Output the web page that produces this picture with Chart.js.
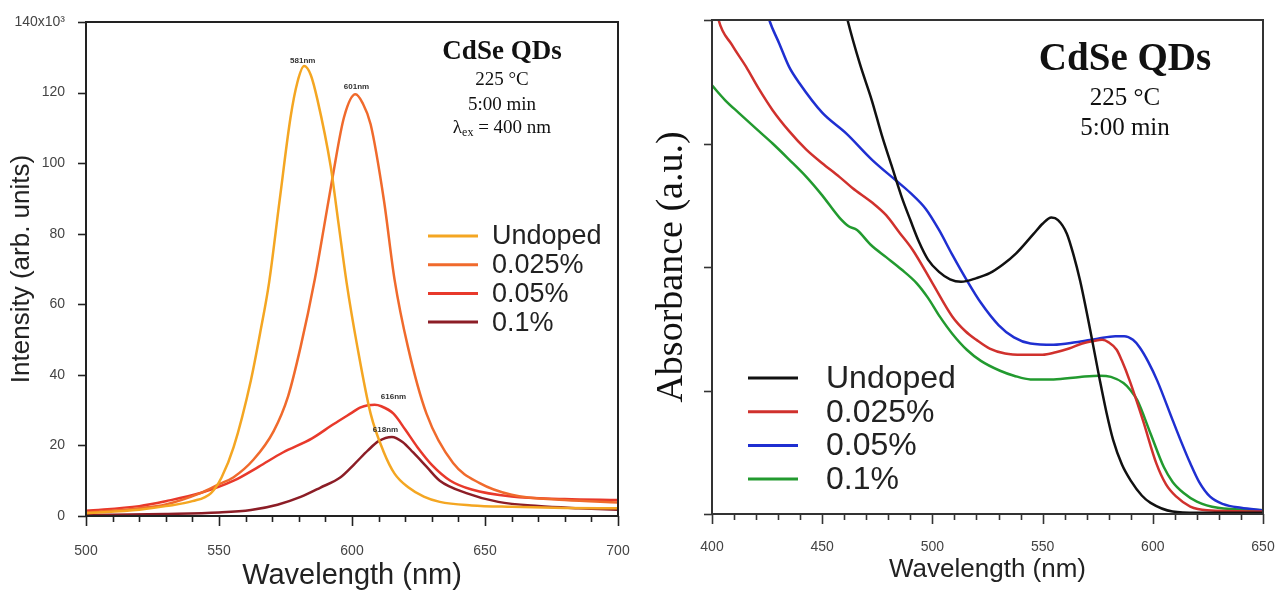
<!DOCTYPE html>
<html>
<head>
<meta charset="utf-8">
<script src="https://cdn.jsdelivr.net/npm/chart.js@4.4.1/dist/chart.umd.min.js"></script>
<style>
    html, body { margin: 0; padding: 0; background: #fff; }
    #wrap { position: relative; width: 1277px; height: 590px; overflow: hidden; }
    #plChart { position: absolute; left: 0; top: 0; }
    #absChart { position: absolute; left: 640px; top: 0; }
</style>
</head>
<body>
<div id="wrap">
    <canvas id="plChart" width="640" height="590"></canvas>
    <canvas id="absChart" width="637" height="590"></canvas>
</div>
<script>
// ---- shared labels
const seriesLabels = ['Undoped', '0.025%', '0.05%', '0.1%'];

// ---- photoluminescence (left), intensity in 10^3 arb. units
const plUndopedX = [500, 520, 530, 540, 547, 551, 555.5, 562, 565.5, 568.8, 572.8, 576.9, 579.5, 582, 584.5, 587, 592, 595, 598, 602, 607, 612, 616, 621, 627, 633, 645, 660, 680, 700];
const plUndopedY = [0.8, 1.8, 2.8, 4.2, 6.5, 11, 19.5, 38.5, 52, 66, 89.5, 113, 123, 127.5, 125, 118, 99, 82.5, 66, 48, 29, 18, 12, 8.2, 5.5, 4, 3, 2.6, 2.3, 2.2];
const plDope025X = [500, 520, 530, 543, 550, 555.5, 563, 570.5, 576, 580.7, 586, 589.5, 592.7, 597, 601.3, 604, 607, 612, 616, 621, 628, 638, 648, 660, 680, 700];
const plDope025Y = [1.0, 2.2, 3.3, 6.5, 9, 11, 16, 24, 34, 48, 67, 82, 96, 113, 119.5, 117, 111, 89.5, 67, 48, 29, 15, 9.3, 6, 4.5, 3.8];
const plDope05X = [500, 520, 530, 543, 555.5, 565, 574, 585, 593, 600, 603, 606, 608.5, 611, 615.6, 620, 624.6, 630, 637, 645, 660, 680, 700];
const plDope05Y = [1.5, 2.8, 4.2, 6.5, 10, 14, 18, 22, 26, 29.3, 30.7, 31.4, 31.5, 31.1, 29, 24.5, 19.5, 14.5, 10, 7.5, 5.5, 4.8, 4.5];
const plDope1X = [500, 530, 550, 562, 572, 580.7, 588, 595.7, 601, 606, 610, 615, 619, 623, 628, 633, 643, 655, 670, 685, 700];
const plDope1Y = [0.3, 0.6, 1.0, 1.7, 3.2, 5.4, 8, 11, 14.8, 18.6, 21.2, 22.4, 21, 18, 14, 10, 6.5, 4, 2.8, 2.2, 1.8];

const plMajorX = [500, 550, 600, 650, 700];
const plMinorX = [510, 520, 530, 540, 560, 570, 580, 590, 610, 620, 630, 640, 660, 670, 680, 690];
const plMajorY = [0, 20, 40, 60, 80, 100, 120, 140];

const peakLabels = ['581nm', '601nm', '616nm', '618nm'];
const peakLabelX = [581.5, 601.7, 615.6, 612.6];
const peakLabelY = [129, 121.5, 33.7, 24.4];

// ---- absorbance (right), a.u.
const absUndopedX = [450, 461.5, 467, 472.5, 477, 481.5, 486, 490, 494, 498, 503, 508, 513, 520, 526, 532, 538, 546, 550, 554, 557, 561, 564, 567, 571.6, 576, 579, 582, 586, 590, 595, 599, 609, 620, 650];
const absUndopedY = [4.9, 4.0, 3.65, 3.35, 3.07, 2.82, 2.57, 2.38, 2.2, 2.06, 1.96, 1.9, 1.88, 1.91, 1.95, 2.02, 2.11, 2.27, 2.35, 2.40, 2.38, 2.27, 2.1, 1.89, 1.49, 1.08, 0.82, 0.6, 0.4, 0.27, 0.15, 0.09, 0.02, 0.01, 0.01];
const absDope025X = [400, 403, 409, 415.5, 421, 427.5, 435, 442.8, 450, 457.8, 463.7, 472.8, 479, 485, 491, 500, 509, 515, 520, 526, 533, 541, 550, 556, 562, 568, 573, 577, 580, 583.6, 586, 589.5, 595.5, 601.6, 606, 610.7, 617, 624.6, 650];
const absDope025Y = [4.3, 4.0, 3.8, 3.62, 3.45, 3.27, 3.1, 2.95, 2.84, 2.73, 2.64, 2.52, 2.42, 2.28, 2.14, 1.87, 1.6, 1.48, 1.41, 1.34, 1.30, 1.29, 1.29, 1.31, 1.34, 1.38, 1.40, 1.41, 1.39, 1.33, 1.24, 1.08, 0.76, 0.41, 0.24, 0.14, 0.06, 0.03, 0.02];
const absDope05X = [420, 426, 430.5, 435, 439.6, 450, 461, 472.5, 483.5, 490, 497, 503, 509, 515.7, 522, 530, 537, 544.5, 555, 565, 575, 583, 587, 591, 594, 598, 602, 609, 613, 617, 621, 626, 632, 640, 650];
const absDope05Y = [4.4, 4.0, 3.81, 3.62, 3.49, 3.25, 3.08, 2.87, 2.70, 2.60, 2.47, 2.30, 2.10, 1.89, 1.71, 1.53, 1.43, 1.38, 1.37, 1.39, 1.42, 1.44, 1.44, 1.41, 1.35, 1.23, 1.08, 0.76, 0.58, 0.41, 0.26, 0.14, 0.08, 0.05, 0.03];
const absDope1X = [400, 406, 412, 420, 427.5, 435, 442.8, 450, 457.8, 462, 465.8, 472, 479, 486, 492.8, 498, 503.3, 509, 515.6, 522, 530.7, 537, 544.5, 555, 567, 576, 581, 586.7, 590, 593, 599, 605, 609, 614, 620, 629.5, 650];
const absDope1Y = [3.47, 3.35, 3.25, 3.12, 3.0, 2.87, 2.73, 2.58, 2.40, 2.33, 2.30, 2.18, 2.08, 1.98, 1.87, 1.75, 1.60, 1.46, 1.33, 1.24, 1.16, 1.12, 1.09, 1.09, 1.11, 1.12, 1.11, 1.06, 1.0, 0.92, 0.65, 0.38, 0.26, 0.17, 0.1, 0.05, 0.03];

const absMajorX = [400, 450, 500, 550, 600, 650];
const absMinorX = [410, 420, 430, 440, 460, 470, 480, 490, 510, 520, 530, 540, 560, 570, 580, 590, 610, 620, 630, 640];
const absMajorY = [0, 1, 2, 3, 4];

function toPoints(xs, ys) {
    return xs.map((x, i) => ({ x: x, y: ys[i] }));
}

function makeDataset(label, xs, ys, color) {
    return {
        label: label,
        data: toPoints(xs, ys),
        borderColor: color,
        borderWidth: 2.5,
        pointRadius: 0,
        fill: false,
        cubicInterpolationMode: 'monotone'
    };
}

// keep the plot area where the figure has it (no extra room for edge labels)
function fixX(height) {
    return s => { s.height = height; s.paddingLeft = 0; s.paddingRight = 0; };
}
function fixY(width) {
    return s => { s.width = width; s.paddingTop = 0; s.paddingBottom = 0; };
}

// ticks, frame, legend and texts drawn on top of the plot
const panelDecor = {
    id: 'panelDecor',
    afterDatasetsDraw(chart, args, opts) {
        const ctx = chart.ctx;
        const a = chart.chartArea;
        const xs = chart.scales.x;
        const ys = chart.scales.y;
        ctx.save();
        ctx.strokeStyle = opts.frameColor;
        ctx.lineWidth = 1.6;
        opts.xTicks.forEach(t => t.values.forEach(v => {
            const px = Math.round(xs.getPixelForValue(v)) + 0.5;
            ctx.beginPath();
            ctx.moveTo(px, a.bottom);
            ctx.lineTo(px, a.bottom + t.len);
            ctx.stroke();
        }));
        opts.yTicks.forEach(t => t.values.forEach(v => {
            const py = Math.round(ys.getPixelForValue(v)) + 0.5;
            ctx.beginPath();
            ctx.moveTo(a.left, py);
            ctx.lineTo(a.left - t.len, py);
            ctx.stroke();
        }));
        ctx.lineWidth = 2;
        ctx.strokeRect(a.left, a.top, a.right - a.left, a.bottom - a.top);

        // legend
        const lg = opts.legend;
        ctx.font = lg.font;
        ctx.textBaseline = 'middle';
        ctx.textAlign = 'left';
        chart.data.datasets.forEach((d, i) => {
            const y = lg.y + i * lg.gap;
            ctx.strokeStyle = d.borderColor;
            ctx.lineWidth = 3;
            ctx.beginPath();
            ctx.moveTo(lg.x, y);
            ctx.lineTo(lg.x + lg.len, y);
            ctx.stroke();
            ctx.fillStyle = '#222';
            ctx.fillText(d.label, lg.textX, y + 1);
        });

        // peak labels
        if (opts.peaks) {
            ctx.font = 'bold 8px "Liberation Sans", Arial, sans-serif';
            ctx.fillStyle = '#333';
            ctx.textAlign = 'center';
            opts.peaks.text.forEach((t, i) => {
                ctx.fillText(t, xs.getPixelForValue(opts.peaks.x[i]), ys.getPixelForValue(opts.peaks.y[i]));
            });
        }

        // text block
        ctx.fillStyle = '#111';
        opts.texts.forEach(t => {
            ctx.font = t.font;
            if (t.sub) {
                const subFont = t.subFont;
                ctx.textAlign = 'left';
                const w1 = ctx.measureText(t.text).width;
                const w3 = ctx.measureText(t.after).width;
                ctx.font = subFont;
                const w2 = ctx.measureText(t.sub).width;
                let x = t.x - (w1 + w2 + w3) / 2;
                ctx.font = t.font;
                ctx.fillText(t.text, x, t.y);
                x += w1;
                ctx.font = subFont;
                ctx.fillText(t.sub, x, t.y + 5);
                x += w2;
                ctx.font = t.font;
                ctx.fillText(t.after, x, t.y);
            } else {
                ctx.textAlign = 'center';
                ctx.fillText(t.text, t.x, t.y);
            }
        });
        ctx.restore();
    }
};

const sans = '"Liberation Sans", Arial, sans-serif';
const serif = '"Liberation Serif", "Times New Roman", serif';

// Photoluminescence chart
new Chart(document.getElementById('plChart').getContext('2d'), {
    type: 'line',
    data: {
        datasets: [
            makeDataset(seriesLabels[0], plUndopedX, plUndopedY, '#f4a622'),
            makeDataset(seriesLabels[1], plDope025X, plDope025Y, '#f06a2c'),
            makeDataset(seriesLabels[2], plDope05X, plDope05Y, '#e8392b'),
            makeDataset(seriesLabels[3], plDope1X, plDope1Y, '#8c1d26')
        ]
    },
    options: {
        responsive: false,
        animation: false,
        devicePixelRatio: 1,
        layout: { padding: { top: 22, right: 22, left: 0, bottom: 0 } },
        scales: {
            x: {
                type: 'linear',
                min: 500,
                max: 700,
                afterFit: fixX(74),
                grid: { display: false },
                border: { display: false },
                ticks: { stepSize: 50, padding: 19, color: '#444', font: { family: sans, size: 14 } },
                title: { display: true, text: 'Wavelength (nm)', color: '#222', padding: { top: 0, bottom: 0 }, font: { family: sans, size: 29, lineHeight: 1 } }
            },
            y: {
                min: 0,
                max: 140,
                afterFit: fixY(86),
                grid: { display: false },
                border: { display: false },
                ticks: {
                    stepSize: 20,
                    padding: 13,
                    color: '#444',
                    font: { family: sans, size: 14 },
                    callback: v => (v === 140 ? '140x10\u00b3' : v)
                },
                title: { display: true, text: 'Intensity (arb. units)', color: '#222', padding: { top: 9, bottom: 0 }, font: { family: sans, size: 26, lineHeight: 1 } }
            }
        },
        plugins: {
            legend: { display: false },
            tooltip: { enabled: false },
            panelDecor: {
                frameColor: '#222',
                xTicks: [{ values: plMajorX, len: 10 }, { values: plMinorX, len: 6 }],
                yTicks: [{ values: plMajorY, len: 8 }],
                legend: { x: 428, len: 50, textX: 492, y: 236, gap: 28.7, font: '27px ' + sans },
                peaks: { text: peakLabels, x: peakLabelX, y: peakLabelY },
                texts: [
                    { text: 'CdSe QDs', x: 502, y: 52, font: 'bold 27px ' + serif },
                    { text: '225 \u00b0C', x: 502, y: 80, font: '19px ' + serif },
                    { text: '5:00 min', x: 502, y: 105, font: '19px ' + serif },
                    { text: '\u03bb', sub: 'ex', after: ' = 400 nm', x: 502, y: 128, font: '19px ' + serif, subFont: '12px ' + serif }
                ]
            }
        }
    },
    plugins: [panelDecor]
});

// Absorbance chart
new Chart(document.getElementById('absChart').getContext('2d'), {
    type: 'line',
    data: {
        datasets: [
            makeDataset(seriesLabels[0], absUndopedX, absUndopedY, '#111111'),
            makeDataset(seriesLabels[1], absDope025X, absDope025Y, '#d0312d'),
            makeDataset(seriesLabels[2], absDope05X, absDope05Y, '#1f2fd1'),
            makeDataset(seriesLabels[3], absDope1X, absDope1Y, '#229a2f')
        ]
    },
    options: {
        responsive: false,
        animation: false,
        devicePixelRatio: 1,
        layout: { padding: { top: 20, right: 14, left: 0, bottom: 0 } },
        scales: {
            x: {
                type: 'linear',
                min: 400,
                max: 650,
                afterFit: fixX(76),
                grid: { display: false },
                border: { display: false },
                ticks: { stepSize: 50, padding: 17, color: '#444', font: { family: sans, size: 14 } },
                title: { display: true, text: 'Wavelength (nm)', color: '#222', padding: { top: 0, bottom: 7 }, font: { family: sans, size: 26, lineHeight: 1 } }
            },
            y: {
                min: 0,
                max: 4,
                afterFit: fixY(72),
                grid: { display: false },
                border: { display: false },
                ticks: { display: false, stepSize: 1 },
                title: { display: true, text: 'Absorbance (a.u.)', color: '#111', padding: { top: 13, bottom: 0 }, font: { family: serif, size: 38, lineHeight: 1 } }
            }
        },
        plugins: {
            legend: { display: false },
            tooltip: { enabled: false },
            panelDecor: {
                frameColor: '#333',
                xTicks: [{ values: absMajorX, len: 10 }, { values: absMinorX, len: 6 }],
                yTicks: [{ values: absMajorY, len: 8 }],
                legend: { x: 108, len: 50, textX: 186, y: 378, gap: 33.7, font: '32px ' + sans },
                texts: [
                    { text: 'CdSe QDs', x: 485, y: 60, font: 'bold 39px ' + serif },
                    { text: '225 \u00b0C', x: 485, y: 98, font: '25px ' + serif },
                    { text: '5:00 min', x: 485, y: 128, font: '25px ' + serif }
                ]
            }
        }
    },
    plugins: [panelDecor]
});
</script>
</body>
</html>
